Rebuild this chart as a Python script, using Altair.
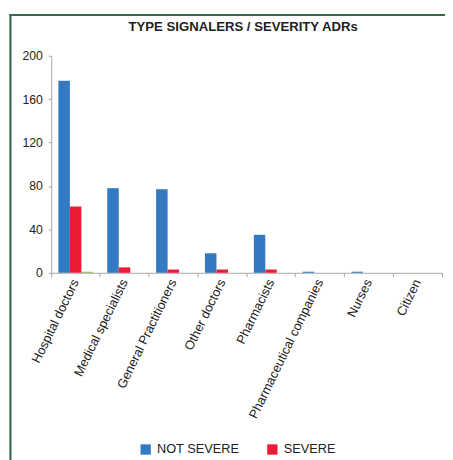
import altair as alt
import pandas as pd

categories = ["Hospital doctors", "Medical specialists", "General Practitioners",
              "Other doctors", "Pharmacists", "Pharmaceutical companies",
              "Nurses", "Citizen"]
not_severe = [177, 78, 77, 18, 35, 1, 1, 0]
severe = [61, 5, 3, 3, 3, 0, 0, 0]
unknown = [1, 0, 0, 0, 0, 0, 0, 0]
series = ["NOT SEVERE", "SEVERE", "UNKNOWN"]
colors = ["#337ac2", "#ee1b34", "#97b553"]
y_ticks = [0, 40, 80, 120, 160, 200]
title_text = "TYPE SIGNALERS / SEVERITY ADRs"

rows = []
for i, c in enumerate(categories):
    for s, vals in zip(series, [not_severe, severe, unknown]):
        rows.append({"category": c, "series": s, "value": vals[i]})
df = pd.DataFrame(rows)

FONT = "Liberation Sans"
W, H = 398, 221

bars = alt.Chart(df).mark_bar().encode(
    x=alt.X("category:N", sort=categories, title=None,
            scale=alt.Scale(paddingInner=0, paddingOuter=0),
            axis=alt.Axis(labelAngle=296, labelFontSize=13, labelFont=FONT,
                          labelColor="#222", domainColor="#a6a6a6",
                          tickColor="#a6a6a6", tickSize=4, labelPadding=3,
                          bandPosition=1, tickExtra=True, labelLimit=300,
                          labelAlign="right", labelBaseline="middle")),
    xOffset=alt.XOffset("series:N", sort=series,
                        scale=alt.Scale(paddingInner=0, paddingOuter=0.625)),
    y=alt.Y("value:Q", title=None,
            scale=alt.Scale(domain=[0, 200], nice=False),
            axis=alt.Axis(values=y_ticks, grid=False, labelFontSize=12.5,
                          labelFont=FONT, labelColor="#222",
                          domainColor="#a6a6a6", tickColor="#a6a6a6",
                          tickSize=3, labelPadding=6)),
    color=alt.Color("series:N", sort=series,
                    scale=alt.Scale(domain=series, range=colors),
                    legend=alt.Legend(values=series[:2], title=None,
                                      orient="none", direction="horizontal",
                                      legendX=89.7, legendY=394.2,
                                      symbolType="square", symbolSize=110,
                                      symbolStrokeWidth=0,
                                      labelFontSize=13, labelFont=FONT,
                                      labelColor="#222", labelOffset=5,
                                      columnPadding=27, padding=0)),
)

title = alt.Chart(pd.DataFrame({"t": [title_text]})).mark_text(
    fontSize=13.4, fontWeight="bold", font=FONT, color="#222",
    baseline="middle", align="center"
).encode(text="t:N", x=alt.value(195.5), y=alt.value(-29.5))

frame_left = alt.Chart(pd.DataFrame({"a": [0]})).mark_rule(
    color="#1f6236", strokeWidth=2
).encode(x=alt.value(-41.5), y=alt.value(-42.5), y2=alt.value(420))

frame_top = alt.Chart(pd.DataFrame({"a": [0]})).mark_rule(
    color="#2f6e45", strokeWidth=2
).encode(y=alt.value(-41.5), x=alt.value(-42.5), x2=alt.value(410))

chart = alt.layer(bars, title, frame_left, frame_top).properties(
    width=W, height=H,
    autosize=alt.AutoSizeParams(type="none"),
    padding={"left": 44, "top": 44.5, "right": 3, "bottom": 186.5},
    background="white",
).configure_view(stroke=None)

chart.save("out.html", embed_options={"renderer": "svg", "actions": False})
